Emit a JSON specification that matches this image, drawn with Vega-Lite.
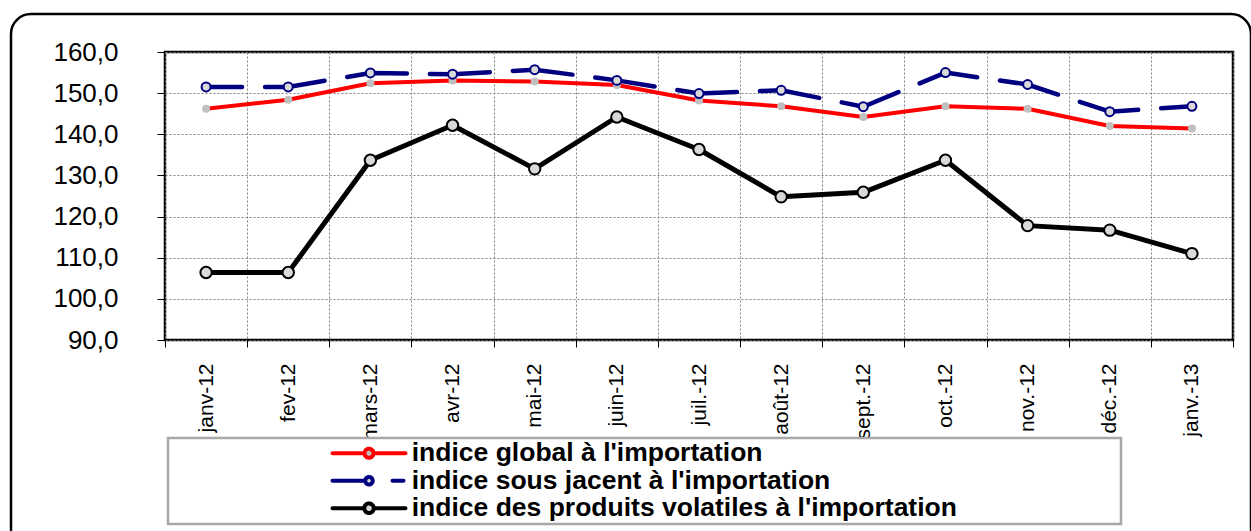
{
  "$schema": "https://vega.github.io/schema/vega-lite/v6.json",
  "autosize": "none",
  "width": 1068,
  "height": 288,
  "padding": {"left": 165, "top": 52, "right": 18, "bottom": 191},
  "background": "white",
  "config": {
    "font": "Liberation Sans",
    "view": {"stroke": "#000000", "strokeWidth": 2.5},
    "legend": {"strokeWidth": 2.5}
  },
  "data": {
    "values": [
      {"mois": "janv-12", "serie": "indice global à l'importation", "valeur": 146.2},
      {"mois": "fev-12", "serie": "indice global à l'importation", "valeur": 148.4},
      {"mois": "mars-12", "serie": "indice global à l'importation", "valeur": 152.4},
      {"mois": "avr-12", "serie": "indice global à l'importation", "valeur": 153.1},
      {"mois": "mai-12", "serie": "indice global à l'importation", "valeur": 152.8},
      {"mois": "juin-12", "serie": "indice global à l'importation", "valeur": 152.0},
      {"mois": "juil.-12", "serie": "indice global à l'importation", "valeur": 148.2},
      {"mois": "août-12", "serie": "indice global à l'importation", "valeur": 146.8},
      {"mois": "sept.-12", "serie": "indice global à l'importation", "valeur": 144.2},
      {"mois": "oct.-12", "serie": "indice global à l'importation", "valeur": 146.8},
      {"mois": "nov.-12", "serie": "indice global à l'importation", "valeur": 146.2},
      {"mois": "déc.-12", "serie": "indice global à l'importation", "valeur": 142.0},
      {"mois": "janv.-13", "serie": "indice global à l'importation", "valeur": 141.4},
      {"mois": "janv-12", "serie": "indice sous jacent à l'importation", "valeur": 151.5},
      {"mois": "fev-12", "serie": "indice sous jacent à l'importation", "valeur": 151.5},
      {"mois": "mars-12", "serie": "indice sous jacent à l'importation", "valeur": 154.9},
      {"mois": "avr-12", "serie": "indice sous jacent à l'importation", "valeur": 154.6},
      {"mois": "mai-12", "serie": "indice sous jacent à l'importation", "valeur": 155.7},
      {"mois": "juin-12", "serie": "indice sous jacent à l'importation", "valeur": 153.1},
      {"mois": "juil.-12", "serie": "indice sous jacent à l'importation", "valeur": 149.9},
      {"mois": "août-12", "serie": "indice sous jacent à l'importation", "valeur": 150.7},
      {"mois": "sept.-12", "serie": "indice sous jacent à l'importation", "valeur": 146.7},
      {"mois": "oct.-12", "serie": "indice sous jacent à l'importation", "valeur": 155.0},
      {"mois": "nov.-12", "serie": "indice sous jacent à l'importation", "valeur": 152.1},
      {"mois": "déc.-12", "serie": "indice sous jacent à l'importation", "valeur": 145.5},
      {"mois": "janv.-13", "serie": "indice sous jacent à l'importation", "valeur": 146.8},
      {"mois": "janv-12", "serie": "indice des produits volatiles à l'importation", "valeur": 106.4},
      {"mois": "fev-12", "serie": "indice des produits volatiles à l'importation", "valeur": 106.4},
      {"mois": "mars-12", "serie": "indice des produits volatiles à l'importation", "valeur": 133.7},
      {"mois": "avr-12", "serie": "indice des produits volatiles à l'importation", "valeur": 142.2},
      {"mois": "mai-12", "serie": "indice des produits volatiles à l'importation", "valeur": 131.6},
      {"mois": "juin-12", "serie": "indice des produits volatiles à l'importation", "valeur": 144.2},
      {"mois": "juil.-12", "serie": "indice des produits volatiles à l'importation", "valeur": 136.3},
      {"mois": "août-12", "serie": "indice des produits volatiles à l'importation", "valeur": 124.8},
      {"mois": "sept.-12", "serie": "indice des produits volatiles à l'importation", "valeur": 125.9},
      {"mois": "oct.-12", "serie": "indice des produits volatiles à l'importation", "valeur": 133.7},
      {"mois": "nov.-12", "serie": "indice des produits volatiles à l'importation", "valeur": 117.8},
      {"mois": "déc.-12", "serie": "indice des produits volatiles à l'importation", "valeur": 116.7},
      {"mois": "janv.-13", "serie": "indice des produits volatiles à l'importation", "valeur": 111.0}
    ]
  },
  "encoding": {
    "x": {
      "field": "mois",
      "type": "ordinal",
      "sort": ["janv-12", "fev-12", "mars-12", "avr-12", "mai-12", "juin-12", "juil.-12", "août-12", "sept.-12", "oct.-12", "nov.-12", "déc.-12", "janv.-13"],
      "scale": {"type": "band", "paddingInner": 0, "paddingOuter": 0},
      "axis": {
        "title": null,
        "labelAngle": 270,
        "labelFont": "Liberation Sans",
        "labelFontSize": 21,
        "labelColor": "#000000",
        "labelPadding": 16,
        "labelOverlap": false,
        "tickBand": "extent",
        "ticks": true,
        "tickSize": 7,
        "tickColor": "#000000",
        "tickWidth": 1,
        "grid": true,
        "gridColor": "#808080",
        "gridDash": [2, 2],
        "gridWidth": 1,
        "domain": false
      }
    },
    "y": {
      "field": "valeur",
      "type": "quantitative",
      "scale": {"domain": [90, 160], "nice": false, "zero": false},
      "axis": {
        "title": null,
        "values": [90, 100, 110, 120, 130, 140, 150, 160],
        "labelExpr": "replace(format(datum.value, '.1f'), '.', ',')",
        "labelFont": "Liberation Sans",
        "labelFontSize": 26,
        "labelColor": "#000000",
        "labelPadding": 39,
        "labelOverlap": false,
        "tickSize": 8,
        "tickColor": "#000000",
        "tickWidth": 1,
        "grid": true,
        "gridColor": "#808080",
        "gridDash": [2, 2],
        "gridWidth": 1,
        "domain": false
      }
    }
  },
  "layer": [
    {
      "transform": [{"filter": {"field": "serie", "equal": "indice global à l'importation"}}],
      "mark": {"type": "line", "strokeWidth": 4, "strokeJoin": "round"},
      "encoding": {
        "color": {
          "field": "serie",
          "type": "nominal",
          "scale": {
            "domain": ["indice global à l'importation", "indice sous jacent à l'importation", "indice des produits volatiles à l'importation"],
            "range": ["#ff0000", "#000080", "#000000"]
          },
          "legend": {
            "orient": "none",
            "legendX": 3,
            "legendY": 386,
            "title": null,
            "direction": "vertical",
            "padding": 2,
            "rowPadding": 0.5,
            "strokeColor": "#a8a8a8",
            "fillColor": "#ffffff",
            "symbolSize": 100,
            "symbolStrokeWidth": 4,
            "symbolOffset": 185.75,
            "labelOffset": 29.45,
            "labelFont": "Liberation Sans",
            "labelFontSize": 26.5,
            "labelFontWeight": "bold",
            "labelColor": "#000000",
            "labelLimit": 3000,
            "labelExpr": "datum.label + pad('', 22, '\u00a0') + '\u200b'",
            "encode": {
              "symbols": {
                "update": {
                  "shape": {"signal": "indexof(datum.value, 'global') >= 0 ? 'M-7.3,0H-0.9M0.9,0H7.3M-0.9,0A0.9,0.9,0,1,0,0.9,0A0.9,0.9,0,1,0,-0.9,0Z' : (indexof(datum.value, 'sous') >= 0 ? 'M-7.3,0H-1.05M4.7,0H6.9M-0.75,0A0.75,0.75,0,1,0,0.75,0A0.75,0.75,0,1,0,-0.75,0Z' : 'M-7.3,0H-0.95M0.95,0H7.3M-0.95,0A0.95,0.95,0,1,0,0.95,0A0.95,0.95,0,1,0,-0.95,0Z')"},
                  "fill": {"signal": "indexof(datum.value, 'global') >= 0 ? '#c0c0c0' : '#d9d9d9'"},
                  "fillOpacity": {"value": 1},
                  "strokeDash": {"value": [1, 0]},
                  "strokeCap": {"value": "round"}
                }
              }
            }
          }
        }
      }
    },
    {
      "transform": [{"filter": {"field": "serie", "equal": "indice global à l'importation"}}],
      "mark": {"type": "point", "shape": "circle", "filled": true, "size": 64, "color": "#c0c0c0", "opacity": 1}
    },
    {
      "transform": [{"filter": {"field": "serie", "equal": "indice sous jacent à l'importation"}}],
      "mark": {"type": "line", "stroke": "#000080", "strokeWidth": 4.5, "strokeDash": [60, 23], "strokeDashOffset": 24, "strokeCap": "round", "strokeJoin": "round"}
    },
    {
      "transform": [{"filter": {"field": "serie", "equal": "indice sous jacent à l'importation"}}],
      "mark": {"type": "point", "shape": "circle", "filled": false, "size": 80, "fill": "#d9d9d9", "fillOpacity": 1, "stroke": "#000080", "strokeWidth": 2, "opacity": 1}
    },
    {
      "transform": [{"filter": {"field": "serie", "equal": "indice des produits volatiles à l'importation"}}],
      "mark": {"type": "line", "stroke": "#000000", "strokeWidth": 5, "strokeJoin": "round"}
    },
    {
      "transform": [{"filter": {"field": "serie", "equal": "indice des produits volatiles à l'importation"}}],
      "mark": {"type": "point", "shape": "circle", "filled": false, "size": 130, "fill": "#d9d9d9", "fillOpacity": 1, "stroke": "#000000", "strokeWidth": 2},
      "encoding": {
        "opacity": {
          "field": "serie",
          "type": "ordinal",
          "scale": {"range": [1, 1]},
          "legend": {
            "orient": "none",
            "legendX": -154,
            "legendY": -38,
            "title": null,
            "padding": 265,
            "cornerRadius": 20,
            "strokeColor": "#000000",
            "symbolSize": 0,
            "symbolStrokeWidth": 0,
            "symbolOpacity": 0,
            "labelFontSize": 10,
            "labelLimit": 3000,
            "labelOffset": 0,
            "labelExpr": "'\u200b' + pad('', 70, '\u2003') + '\u200b'"
          }
        }
      }
    }
  ]
}
